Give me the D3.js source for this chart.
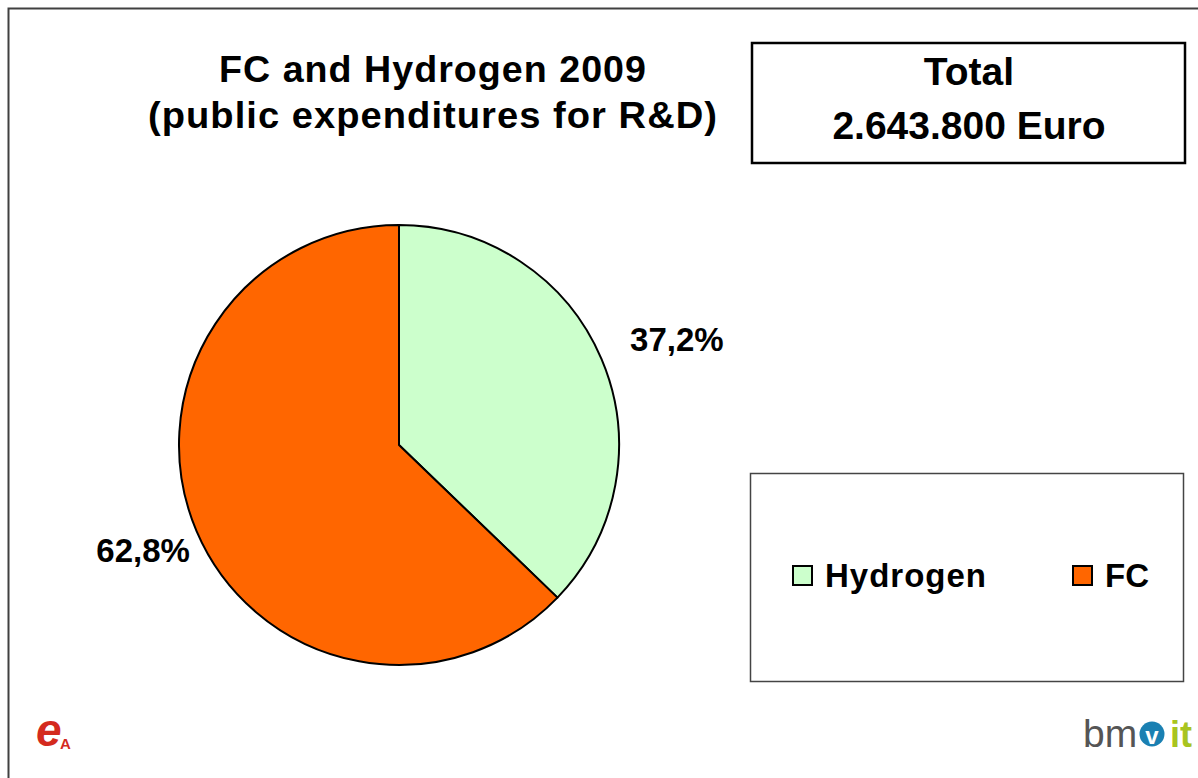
<!DOCTYPE html>
<html lang="en">
<head>
<meta charset="utf-8">
<title>FC and Hydrogen 2009</title>
<style>
  body { margin: 0; background: #fff; }
  text { font-family: "Liberation Sans", Arial, sans-serif; }
</style>
<script src="https://d3js.org/d3.v7.min.js"></script>
</head>
<body>
<svg width="1198" height="778"></svg>
<script>
// data
var categories = ["Hydrogen", "FC"];
var shares = [37.2, 62.8];
var colors = ["#ccffcc", "#ff6600"];
var titleLines = ["FC and Hydrogen 2009", "(public expenditures for R&D)"];
var totalLines = ["Total", "2.643.800 Euro"];

var svg = d3.select("svg");

// slide frame
svg.append("rect")
   .attr("x", 8.5).attr("y", 8.5)
   .attr("width", 1220).attr("height", 800)
   .attr("fill", "none")
   .attr("stroke", "#404040")
   .attr("stroke-width", 2);

// title (narrow, spaced glyphs like the original)
svg.selectAll(".title")
   .data(titleLines)
   .enter().append("text")
   .attr("class", "title")
   .attr("x", 433)
   .attr("y", function (d, i) { return 82 + i * 46; })
   .attr("text-anchor", "middle")
   .attr("font-size", "37px")
   .attr("font-weight", "bold")
   .attr("letter-spacing", "1px")
   .attr("textLength", function (d, i) { return i == 0 ? 428 : 570; })
   .attr("lengthAdjust", "spacingAndGlyphs")
   .text(function (d) { return d; });

// total box
svg.append("rect")
   .attr("x", 752).attr("y", 43)
   .attr("width", 433).attr("height", 120)
   .attr("fill", "#fff")
   .attr("stroke", "#000")
   .attr("stroke-width", 2.5);
svg.selectAll(".total")
   .data(totalLines)
   .enter().append("text")
   .attr("class", "total")
   .attr("x", 969)
   .attr("y", function (d, i) { return 85 + i * 54; })
   .attr("text-anchor", "middle")
   .attr("font-size", "39px")
   .attr("font-weight", "bold")
   .text(function (d) { return d; });

// pie
var cx = 399, cy = 445, radius = 220;
var pie = d3.pie().sort(null).value(function (d) { return d; });
var arcs = pie(shares);
var arc = d3.arc().innerRadius(0).outerRadius(radius);
var labelArc = d3.arc().innerRadius(290).outerRadius(290);

var g = svg.append("g").attr("transform", "translate(" + cx + "," + cy + ")");
g.selectAll(".slice")
   .data(arcs)
   .enter().append("path")
   .attr("class", "slice")
   .attr("d", arc)
   .attr("fill", function (d, i) { return colors[i]; })
   .attr("stroke", "#000")
   .attr("stroke-width", 2)
   .attr("stroke-linejoin", "round");

// percentage labels, placed on a slightly flattened ring around the pie
g.selectAll(".pct")
   .data(arcs)
   .enter().append("text")
   .attr("class", "pct")
   .attr("x", function (d) { return labelArc.centroid(d)[0] + 11; })
   .attr("y", function (d) { return labelArc.centroid(d)[1] * 0.93; })
   .attr("dy", "0.36em")
   .attr("text-anchor", "middle")
   .attr("font-size", "33px")
   .attr("font-weight", "bold")
   .text(function (d) { return d.data.toFixed(1).replace(".", ",") + "%"; });

// legend
svg.append("rect")
   .attr("x", 750.5).attr("y", 473.5)
   .attr("width", 433).attr("height", 208)
   .attr("fill", "#fff")
   .attr("stroke", "#444")
   .attr("stroke-width", 1.5);
var legendX = [793, 1073];
var lg = svg.selectAll(".leg")
   .data(categories)
   .enter().append("g")
   .attr("class", "leg")
   .attr("transform", function (d, i) { return "translate(" + legendX[i] + ",566)"; });
lg.append("rect")
   .attr("width", 19).attr("height", 19)
   .attr("fill", function (d, i) { return colors[i]; })
   .attr("stroke", "#000")
   .attr("stroke-width", 2);
lg.append("text")
   .attr("x", 32)
   .attr("y", 21)
   .attr("font-size", "33px")
   .attr("font-weight", "bold")
   .attr("letter-spacing", function (d, i) { return i == 0 ? "1px" : "0px"; })
   .text(function (d) { return d; });

// logos (bottom corners)
var logoE = svg.append("g").attr("transform", "translate(36,746)");
logoE.append("text")
   .attr("font-family", "DejaVu Serif")
   .attr("font-style", "italic")
   .attr("font-weight", "bold")
   .attr("font-size", "46px")
   .attr("fill", "#d42a1e")
   .text("e");
logoE.append("text")
   .attr("x", 24).attr("y", 3)
   .attr("font-weight", "bold")
   .attr("font-size", "15px")
   .attr("fill", "#d42a1e")
   .text("A");

var logoB = svg.append("g").attr("transform", "translate(1083,747)");
logoB.append("text")
   .attr("font-size", "39px")
   .attr("fill", "#555")
   .text("bm");
logoB.append("circle")
   .attr("cx", 69).attr("cy", -13).attr("r", 12.5)
   .attr("fill", "#1a80b2");
logoB.append("text")
   .attr("x", 69).attr("y", -3)
   .attr("text-anchor", "middle")
   .attr("font-weight", "bold")
   .attr("font-size", "24px")
   .attr("fill", "#fff")
   .text("v");
logoB.append("text")
   .attr("x", 87)
   .attr("font-weight", "bold")
   .attr("font-size", "36px")
   .attr("fill", "#a8c420")
   .text("it");
</script>
</body>
</html>
